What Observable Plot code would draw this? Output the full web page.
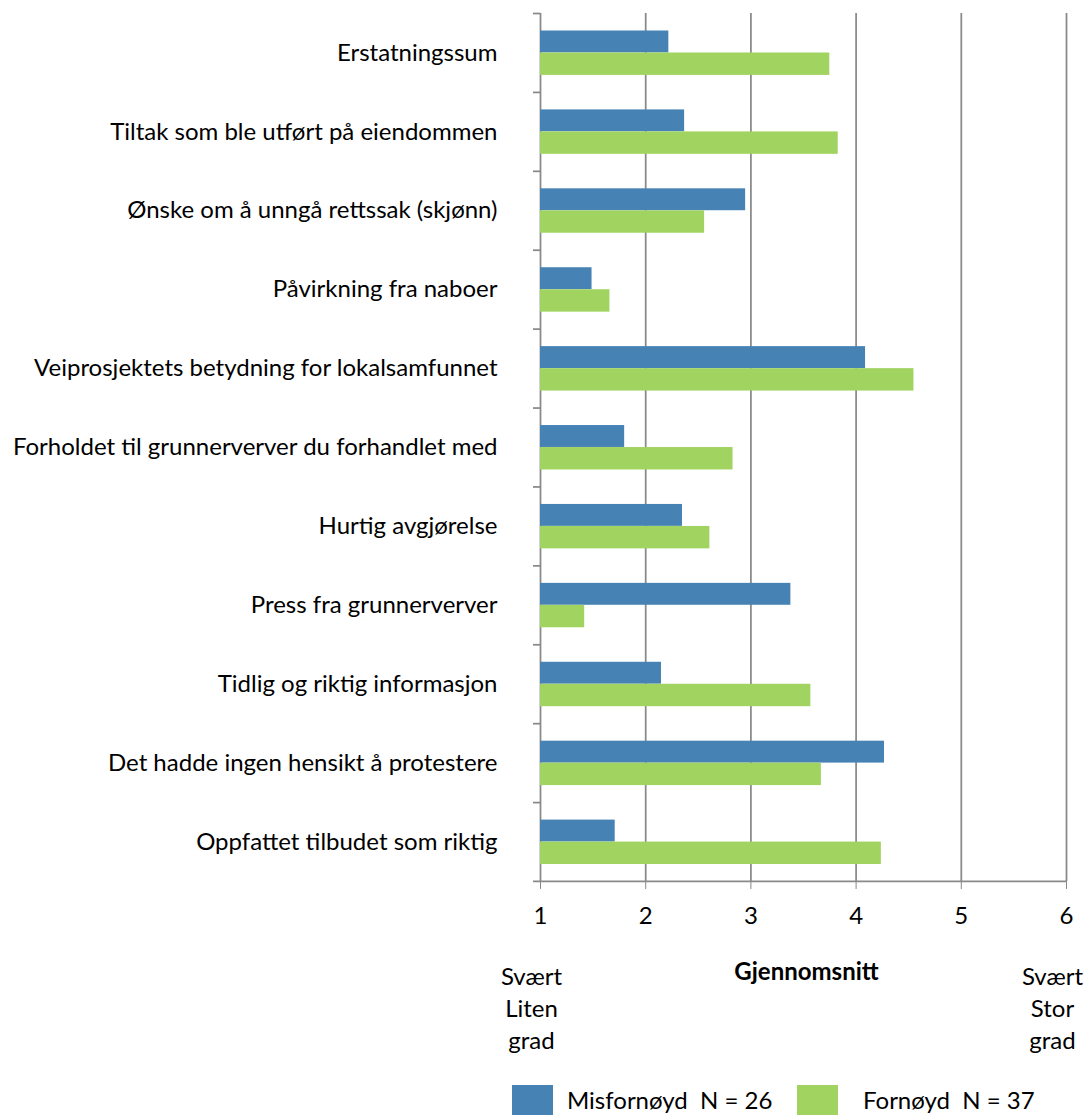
<!DOCTYPE html>
<html>
<head>
<meta charset="utf-8">
<script src="https://cdn.jsdelivr.net/npm/d3@7"></script>
<script src="https://cdn.jsdelivr.net/npm/@observablehq/plot@0.6"></script>
<style>
  html, body { margin: 0; padding: 0; background: #fff; }
  body { width: 1085px; height: 1115px; overflow: hidden; font-family: Lato, "Open Sans", sans-serif; }
  #legend { position: relative; height: 40px; }
  #legend .sw { position: absolute; width: 41px; height: 41px; }
  #legend .lbl { position: absolute; font-size: 24px; line-height: 1.2; white-space: pre; color: #000; }
</style>
</head>
<body>
<div id="chart"></div>
<div id="legend"></div>
<script>
// ---- data ----
const categories = [
  "Erstatningssum",
  "Tiltak som ble utført på eiendommen",
  "Ønske om å unngå rettssak (skjønn)",
  "Påvirkning fra naboer",
  "Veiprosjektets betydning for lokalsamfunnet",
  "Forholdet til grunnerverver du forhandlet med",
  "Hurtig avgjørelse",
  "Press fra grunnerverver",
  "Tidlig og riktig informasjon",
  "Det hadde ingen hensikt å protestere",
  "Oppfattet tilbudet som riktig"
];
const misfornoyd = [2.22, 2.37, 2.95, 1.49, 4.09, 1.80, 2.35, 3.38, 2.15, 4.27, 1.71];
const fornoyd    = [3.75, 3.83, 2.56, 1.66, 4.55, 2.83, 2.61, 1.42, 3.57, 3.67, 4.24];
const seriesNames = ["Misfornøyd  N = 26", "Fornøyd  N = 37"];
const xTicks = [1, 2, 3, 4, 5, 6];
const annotLeft = ["Svært\nLiten\ngrad"];
const annotMid = ["Gjennomsnitt"];
const annotRight = ["Svært\nStor\ngrad"];

// ---- layout / style ----
const W = 1085, H = 1075;
const FS = 24;
const marginTop = 13, plotBottom = 881, marginLeft = 540, marginRight = 19;
const band = (plotBottom - marginTop) / categories.length;
const pxPerUnit = (W - marginLeft - marginRight) / (xTicks[xTicks.length - 1] - xTicks[0]);
const tickLen = 7;
const gray = "#898989";
const colors = ["#4682B4", "#A1D360"];

const rowsBlue = categories.map((c, i) => ({category: c, value: misfornoyd[i]}));
const rowsGreen = categories.map((c, i) => ({category: c, value: fornoyd[i]}));

// baseline of first annotation line at ~979 px
const annotDy = 979 - plotBottom - 0.71 * FS;

const chart = Plot.plot({
  width: W,
  height: H,
  marginTop,
  marginBottom: H - plotBottom,
  marginLeft,
  marginRight,
  style: {fontFamily: "Lato, 'Open Sans', sans-serif", fontSize: FS + "px", color: "#000", background: "#fff", display: "block", overflow: "visible"},
  x: {domain: [xTicks[0], xTicks[xTicks.length - 1]]},
  y: {domain: categories, padding: 0, round: false},
  marks: [
    // vertical gridlines + left axis line
    Plot.ruleX(xTicks, {stroke: gray, strokeWidth: 1.75}),
    // category boundary ticks on the left axis
    Plot.ruleY(categories, {y: d => d, x1: xTicks[0] - tickLen / pxPerUnit, x2: xTicks[0], dy: -band / 2, stroke: gray, strokeWidth: 1.75}),
    // bottom axis line (with last boundary tick)
    Plot.ruleY([categories[categories.length - 1]], {y: d => d, x1: xTicks[0] - tickLen / pxPerUnit, x2: xTicks[xTicks.length - 1], dy: band / 2, stroke: gray, strokeWidth: 1.75}),
    // bars
    Plot.barX(rowsBlue, {y: "category", x1: xTicks[0], x2: "value", fill: colors[0], insetTop: 17.5, insetBottom: 39.5}),
    Plot.barX(rowsGreen, {y: "category", x1: xTicks[0], x2: "value", fill: colors[1], insetTop: 39.5, insetBottom: 17}),
    // axes
    Plot.axisY({tickSize: 0, tickPadding: 43, label: null, fontSize: FS}),
    Plot.axisX({ticks: xTicks, tickFormat: d3.format("d"), tickSize: 8, tickPadding: 17, label: null, stroke: gray, fill: "#000", fontSize: FS}),
    // annotations below axis
    Plot.text(annotLeft, {x: () => xTicks[0], text: d => d, frameAnchor: "bottom", lineAnchor: "top", dy: annotDy, dx: -9, lineHeight: 32 / FS, fontSize: FS, fill: "#000"}),
    Plot.text(annotMid, {x: () => 3.5, text: d => d, frameAnchor: "bottom", lineAnchor: "top", dy: annotDy, dx: 3, fontSize: FS, fontWeight: "bold", fill: "#000"}),
    Plot.text(annotRight, {x: () => xTicks[xTicks.length - 1], text: d => d, frameAnchor: "bottom", lineAnchor: "top", dy: annotDy, dx: -14, lineHeight: 32 / FS, fontSize: FS, fill: "#000"})
  ]
});
document.getElementById("chart").appendChild(chart);

// ---- legend ----
const legend = document.getElementById("legend");
const legendPos = [{sw: 512, lbl: 567}, {sw: 797, lbl: 863}];
seriesNames.forEach((name, i) => {
  const sw = document.createElement("div");
  sw.className = "sw";
  sw.style.left = legendPos[i].sw + "px";
  sw.style.top = "10px";
  sw.style.background = colors[i];
  legend.appendChild(sw);
  const lbl = document.createElement("div");
  lbl.className = "lbl";
  lbl.style.left = legendPos[i].lbl + "px";
  lbl.style.top = "11px";
  lbl.textContent = name;
  legend.appendChild(lbl);
});
</script>
</body>
</html>
